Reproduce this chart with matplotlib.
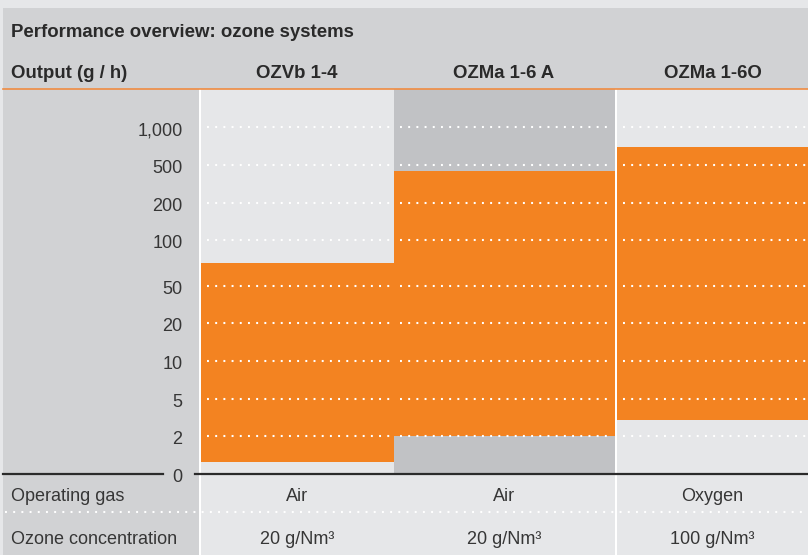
import numpy as np
import matplotlib
matplotlib.use("Agg")
import matplotlib.pyplot as plt
from matplotlib.patches import Rectangle
from matplotlib.lines import Line2D
from matplotlib import transforms

plt.rcParams['font.family'] = ['Liberation Sans', 'DejaVu Sans']
plt.rcParams['lines.scale_dashes'] = False

# data
models = ['OZVb 1-4', 'OZMa 1-6 A', 'OZMa 1-6O']
output_min = [0.65, 2, 3.3]
output_max = [75, 450, 740]
operating_gas = ['Air', 'Air', 'Oxygen']
concentration = ['20 g/Nm³', '20 g/Nm³', '100 g/Nm³']
tick_values = [0, 2, 5, 10, 20, 50, 100, 200, 500, 1000]
tick_labels = ['0', '2', '5', '10', '20', '50', '100', '200', '500', '1,000']

# layout (pixels of an 808x555 canvas)
W, H = 808, 555
SLOTS = [0, 1, 2, 3, 4, 5, 6.2, 7.2, 8.2, 9.2]   # vertical position of each tick, 37.7 px apart
SLOT_PX = 37.7
Y_ZERO, Y_TOP = 474, 89
COL_EDGES = [(201, 393.5), (393.5, 614.5), (617, 808)]
COL_BG = ['#e6e7e9', '#c1c2c5', '#e6e7e9']
LIGHT = '#e6e7e9'
PANEL = '#d1d2d4'
ORANGE = '#f38321'
TXT = '#2a2a2a'
BOLD_SIZE = 13.4
TEXT_SIZE = 13


def forward(v):
    v = np.asarray(v, dtype=float)
    s = np.interp(v, tick_values, SLOTS)
    return np.where(v > tick_values[-1], SLOTS[-1] + (v - tick_values[-1]) / 500.0, s)


def inverse(s):
    s = np.asarray(s, dtype=float)
    v = np.interp(s, SLOTS, tick_values)
    return np.where(s > SLOTS[-1], tick_values[-1] + (s - SLOTS[-1]) * 500.0, v)


ymax = float(inverse((Y_ZERO - Y_TOP) / SLOT_PX))


def fx(x):
    return x / W


def fy(y):
    return 1 - y / H


def rect(x0, y0, x1, y1, color, z=0):
    fig.add_artist(Rectangle((fx(x0), fy(y1)), fx(x1) - fx(x0), fy(y0) - fy(y1),
                             transform=fig.transFigure, facecolor=color,
                             edgecolor='none', zorder=z))


def hline(y, x0, x1, **kw):
    fig.add_artist(Line2D([fx(x0), fx(x1)], [fy(y), fy(y)],
                          transform=fig.transFigure, **kw))


fig = plt.figure(figsize=(W / 100, H / 100), dpi=100, facecolor=LIGHT)

# background blocks
rect(3, 8, W, Y_TOP, PANEL)
rect(3, Y_TOP, 199, H, PANEL)
rect(199, Y_TOP, 201, H, 'white', z=3)
rect(614.5, Y_TOP, 617, H, 'white', z=3)
hline(88.8, 3, W, color='#f08c42', lw=1.2, zorder=4)

# header texts
fig.text(fx(11), fy(36.7), 'Performance overview: ozone systems', fontsize=BOLD_SIZE,
         fontweight='bold', color=TXT, va='baseline', ha='left')
fig.text(fx(11), fy(77.7), 'Output (g / h)', fontsize=BOLD_SIZE,
         fontweight='bold', color=TXT, va='baseline', ha='left')

dot_style = dict(color='white', lw=1.5, linestyle=(0, (1.4, 4.5)))

# left panel axis with the tick labels
bottom = fy(Y_ZERO)
height = fy(Y_TOP) - fy(Y_ZERO)
lab_ax = fig.add_axes([fx(3), bottom, fx(199) - fx(3), height])
lab_ax.set_yscale('function', functions=(forward, inverse))
lab_ax.set_ylim(0, ymax)
lab_ax.set_xlim(0, 1)
lab_ax.axis('off')
lab_trans = transforms.blended_transform_factory(fig.transFigure, lab_ax.transData)
lab_trans = transforms.offset_copy(lab_trans, fig=fig, y=-8.0, units='dots')
for v, lab in zip(tick_values, tick_labels):
    lab_ax.text(fx(182.5), v, lab, transform=lab_trans, ha='right', va='baseline',
                fontsize=TEXT_SIZE, color='#363636', clip_on=False)

# one axes per model column
for i, (x0, x1) in enumerate(COL_EDGES):
    ax = fig.add_axes([fx(x0), bottom, fx(x1) - fx(x0), height])
    ax.set_yscale('function', functions=(forward, inverse))
    ax.set_facecolor(COL_BG[i])
    ax.bar(0.5, output_max[i] - output_min[i], bottom=output_min[i], width=1.0,
           color=ORANGE, zorder=1)
    for v in tick_values[1:]:
        ax.axhline(v, xmin=0.03, xmax=0.995, zorder=2, **dot_style)
    ax.set_xlim(0, 1)
    ax.set_ylim(0, ymax)
    for s in ax.spines.values():
        s.set_visible(False)
    ax.set_xticks([])
    ax.set_yticks([])

    xc = fx((x0 + x1) / 2)
    fig.text(xc, fy(77.7), models[i], fontsize=BOLD_SIZE, fontweight='bold', color=TXT,
             ha='center', va='baseline')
    fig.text(xc, fy(500.7), operating_gas[i], fontsize=TEXT_SIZE, color='#363636',
             ha='center', va='baseline')
    fig.text(xc, fy(544.3), concentration[i], fontsize=TEXT_SIZE, color='#363636',
             ha='center', va='baseline')

# zero line, broken around the "0" label
hline(Y_ZERO, 3, 163, color='#2b2b2b', lw=1.6, zorder=5)
hline(Y_ZERO, 195, W, color='#2b2b2b', lw=1.6, zorder=5)

# table rows below the chart
fig.text(fx(11), fy(500.7), 'Operating gas', fontsize=TEXT_SIZE, color='#363636',
         ha='left', va='baseline')
fig.text(fx(11), fy(544.3), 'Ozone concentration', fontsize=TEXT_SIZE, color='#363636',
         ha='left', va='baseline')
hline(512.3, 5, W, zorder=4, **dot_style)

fig.savefig('out.png', dpi=100, facecolor=fig.get_facecolor())
